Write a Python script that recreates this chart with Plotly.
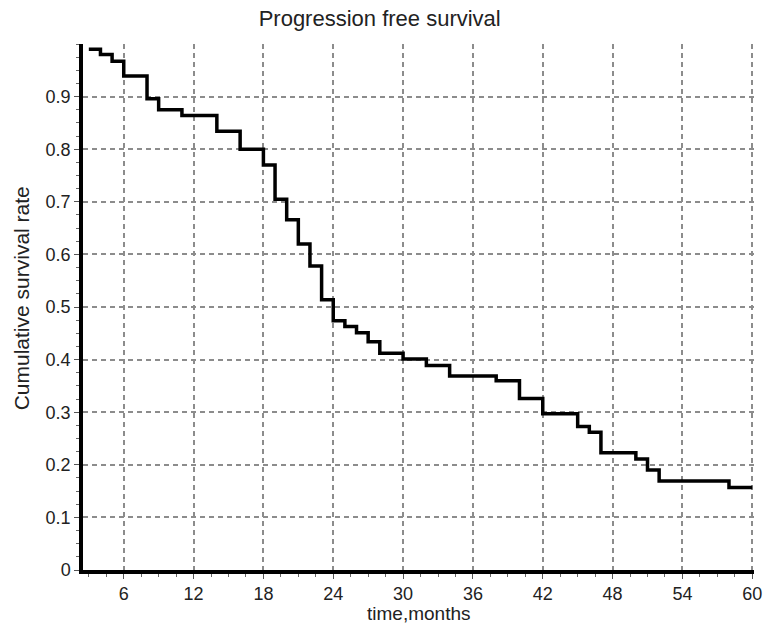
import plotly.graph_objects as go

# Kaplan-Meier step data (time in months, cumulative survival)
months = [3, 4, 5, 6, 8, 9, 11, 14, 16, 18, 19, 20, 21, 22, 23, 24, 25, 26, 27, 28,
          30, 32, 34, 38, 40, 42, 45, 46, 47, 50, 51, 52, 58, 60]
survival = [0.99, 0.98, 0.967, 0.939, 0.896, 0.875, 0.864, 0.834, 0.80, 0.77, 0.705,
            0.666, 0.62, 0.578, 0.514, 0.474, 0.463, 0.451, 0.434, 0.412, 0.401, 0.389,
            0.369, 0.360, 0.326, 0.297, 0.273, 0.262, 0.223, 0.211, 0.19, 0.169, 0.157, 0.157]

x_ticks = [6, 12, 18, 24, 30, 36, 42, 48, 54, 60]
y_ticks = [0, 0.1, 0.2, 0.3, 0.4, 0.5, 0.6, 0.7, 0.8, 0.9]
y_ticktext = ["0", "0.1", "0.2", "0.3", "0.4", "0.5", "0.6", "0.7", "0.8", "0.9"]

FONT = "Liberation Sans, Arial, sans-serif"

fig = go.Figure()
fig.add_trace(go.Scatter(
    x=months, y=survival, mode="lines", line=dict(color="black", width=3.5, shape="hv"),
    showlegend=False, hoverinfo="x+y", cliponaxis=False))

grid = dict(showgrid=True, gridcolor="#8c8c8c", gridwidth=1.5, griddash="5px,4px")

fig.update_xaxes(
    range=[2.5, 60.15], tickvals=x_ticks, ticks="outside", ticklen=5, tickwidth=1,
    tickcolor="#555", showline=True, linecolor="black", linewidth=3.5,
    zeroline=False, automargin=False, ticklabeloverflow="allow",
    tickfont=dict(family=FONT, size=18, color="#222"),
    minor=dict(ticks="outside", dtick=1.5, tick0=0, ticklen=3, tickcolor="#666", showgrid=False),
    **grid)
fig.update_yaxes(
    range=[0, 1], tickvals=y_ticks, ticktext=y_ticktext, ticks="outside", ticklen=5,
    tickwidth=1, tickcolor="#555", showline=True, linecolor="black", linewidth=3.5,
    zeroline=False, automargin=False, ticklabeloverflow="allow",
    tickfont=dict(family=FONT, size=18, color="#222"),
    minor=dict(ticks="outside", dtick=0.025, tick0=0, ticklen=3, tickcolor="#666", showgrid=False),
    **grid)

fig.update_layout(
    width=764, height=638,
    margin=dict(l=83, r=10, t=44, b=68, autoexpand=False),
    paper_bgcolor="white", plot_bgcolor="white",
    title=dict(text="Progression free survival", x=0.497, xref="container", xanchor="center",
               y=1 - 18 / 638, yref="container", yanchor="middle",
               font=dict(family=FONT, size=22, color="#222")),
    annotations=[
        dict(text="time,months", xref="paper", yref="paper", x=0.5, y=-0.083,
             xanchor="center", yanchor="middle", showarrow=False,
             font=dict(family=FONT, size=19, color="#222")),
        dict(text="Cumulative survival rate", xref="paper", yref="paper", x=-0.092, y=0.517,
             xanchor="center", yanchor="middle", textangle=-90, showarrow=False,
             font=dict(family=FONT, size=21, color="#222")),
    ],
)

fig.write_html("out.html", config={"displayModeBar": False},
               post_script="document.body.style.margin='0';document.body.style.overflow='hidden';")
